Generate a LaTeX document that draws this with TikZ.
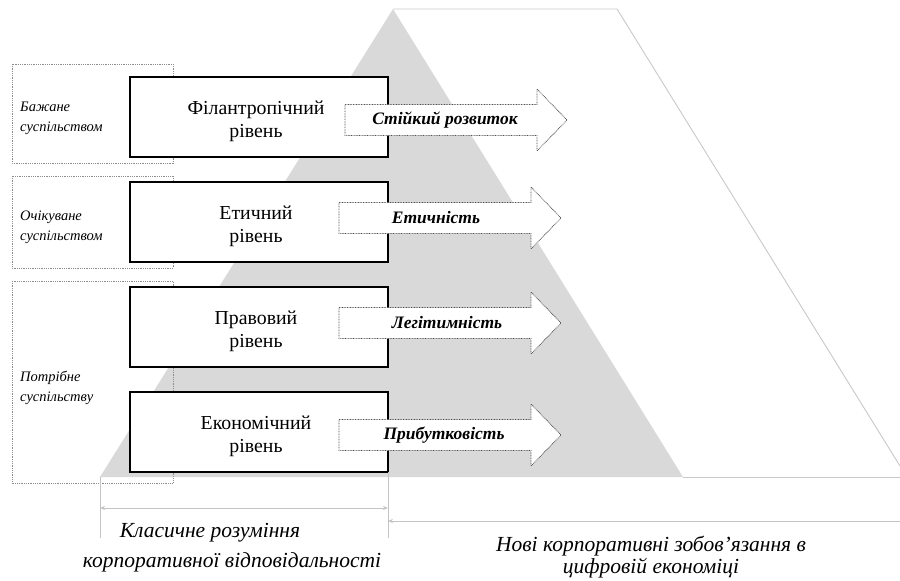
\documentclass[tikz,border=0pt]{standalone}
\usepackage{fontspec}
\setmainfont{Liberation Serif}
\usetikzlibrary{arrows.meta}
\definecolor{trigrey}{HTML}{D9D9D9}
\definecolor{outgrey}{HTML}{C8C8C8}
\definecolor{dotgrey}{HTML}{8C8C8C}
\definecolor{arrgrey}{HTML}{505050}
\definecolor{dimgrey}{HTML}{C4C4C4}
\newcommand{\blkarrow}[4]{%
  \draw[blockarr] (#1,{#4-15.5}) -- (#2,{#4-15.5}) -- (#2,{#4-31}) -- (#3,#4)
    -- (#2,{#4+31}) -- (#2,{#4+15.5}) -- (#1,{#4+15.5}) -- cycle;}
\begin{document}
\begin{tikzpicture}[x=1pt,y=-1pt,
  lvl/.style={draw=black, line width=1.4pt, fill=white, minimum width=258pt,
    minimum height=80pt, inner sep=0pt},
  lvltext/.style={inner sep=0pt, align=center,
    font=\fontsize{19.8}{23}\selectfont},
  dotbox/.style={draw=dotgrey, line width=0.9pt, dash pattern=on 0.9pt off 0.9pt},
  blockarr/.style={draw=arrgrey, fill=white, line width=0.8pt, dash pattern=on 0.8pt off 0.8pt},
  arrtext/.style={font=\fontsize{17.5}{20}\selectfont\bfseries\itshape, inner sep=0pt},
  sidelab/.style={anchor=west, align=left, inner sep=0pt,
    font=\fontsize{14.5}{20}\selectfont\itshape},
  bottext/.style={inner sep=0pt, font=\fontsize{21.5}{22}\selectfont\itshape},
  outl/.style={draw=outgrey, line width=0.9pt},
  dim/.style={draw=dimgrey, line width=0.8pt}
]
\useasboundingbox (0,0) rectangle (900,581);
% grey triangle and outline
\fill[trigrey] (100,477) -- (393,9) -- (683,477) -- cycle;
\draw[outl] (393,9) -- (617,9) -- (900,466);
\draw[outl] (683,477) -- (900,477);
% dotted groups
\draw[dotbox] (12,64) rectangle (173,163);
\draw[dotbox] (12,176) rectangle (173,268);
\draw[dotbox] (12,281) rectangle (173,483);
\node[sidelab] (want) at (20,118) {Бажане\\суспільством};
\node[sidelab] (expect) at (20,227) {Очікуване\\суспільством};
\node[sidelab] (need) at (20,388) {Потрібне\\суспільству};
% level boxes
\node[lvl] (phil) at (259,117) {};
\node[lvl] (eth) at (259,222) {};
\node[lvl] (leg) at (259,327) {};
\node[lvl] (eco) at (259,432) {};
\node[lvltext] (philt) at (256,121) {Філантропічний\\рівень};
\node[lvltext] (etht) at (256,226) {Етичний\\рівень};
\node[lvltext] (legt) at (256,331) {Правовий\\рівень};
\node[lvltext] (ecot) at (256,436) {Економічний\\рівень};
% block arrows
\blkarrow{345}{537}{567}{120}
\blkarrow{339}{531}{561}{218}
\blkarrow{339}{531}{561}{323}
\blkarrow{339}{531}{561}{435}
\node[arrtext] (sust) at (445,120) {Стійкий розвиток};
\node[arrtext] (ethic) at (436,218) {Етичність};
\node[arrtext] (legit) at (447,323) {Легітимність};
\node[arrtext] (profit) at (444,435) {Прибутковість};
% dimension lines
\coordinate (d1t) at (100,477);
\coordinate (d1b) at (100,538);
\coordinate (d2t) at (388,472);
\coordinate (d2b) at (388,538);
\coordinate (a1l) at (100,508);
\coordinate (a1r) at (388,508);
\coordinate (a2l) at (388,521);
\coordinate (a2r) at (900,521);
\draw[dim] (d1t) -- (d1b);
\draw[dim] (d2t) -- (d2b);
\draw[dim, {Stealth[length=5pt,width=4pt]}-{Stealth[length=5pt,width=4pt]}] (a1l) -- (a1r);
\draw[dim, {Stealth[length=5pt,width=4pt]}-] (a2l) -- (a2r);
% bottom captions
\node[bottext] (cls1) at (210,533) {Класичне розуміння};
\node[bottext] (cls2) at (232,562) {корпоративної відповідальності};
\node[bottext, align=center] (newob) at (651,557) {Нові корпоративні зобов’язання в\\цифровій економіці};
\end{tikzpicture}
\end{document}
